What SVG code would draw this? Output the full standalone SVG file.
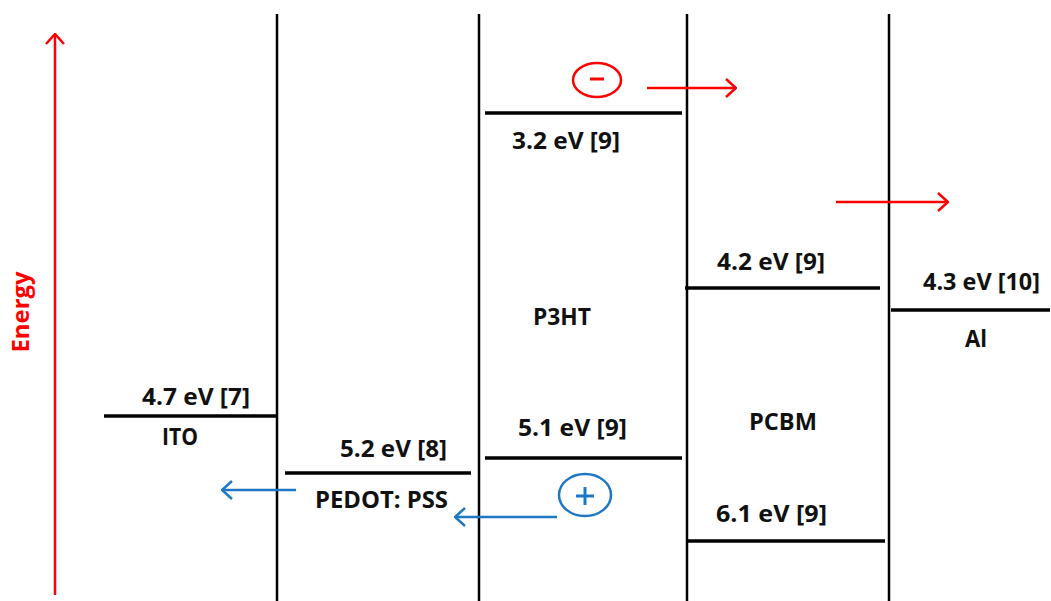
<svg xmlns="http://www.w3.org/2000/svg" width="1051" height="601" viewBox="0 0 1051 601">
<defs>
<style>
.v{stroke:#000;stroke-width:2.5;fill:none}
.h{stroke:#000;stroke-width:3.5;fill:none}
.t{font-family:"Open Sans","Liberation Sans",sans-serif;font-weight:bold;font-size:23px;fill:#111}
.r{stroke:#ff0000;stroke-width:2.5;fill:none}
.b{stroke:#1f77c4;stroke-width:2.5;fill:none}
</style>
<marker id="ar" viewBox="0 0 12 20" refX="11" refY="10" markerWidth="12" markerHeight="20" markerUnits="userSpaceOnUse" orient="auto"><path d="M1,1 L11,10 L1,19" fill="none" stroke="#ff0000" stroke-width="2.5"/></marker>
<marker id="ab" viewBox="0 0 12 20" refX="11" refY="10" markerWidth="12" markerHeight="20" markerUnits="userSpaceOnUse" orient="auto"><path d="M1,1 L11,10 L1,19" fill="none" stroke="#1f77c4" stroke-width="2.5"/></marker>
</defs>
<rect width="1051" height="601" fill="#fff"/>
<g id="layers">
<line class="v" x1="277" y1="14" x2="277" y2="601"/>
<line class="v" x1="479" y1="14" x2="479" y2="601"/>
<line class="v" x1="687" y1="14" x2="687" y2="601"/>
<line class="v" x1="889" y1="14" x2="889" y2="601"/>
</g>
<g id="ITO">
<line class="h" x1="104" y1="416" x2="277" y2="416"/>
<text class="t" x="142" y="405" textLength="108" lengthAdjust="spacingAndGlyphs">4.7 eV [7]</text>
<text class="t" x="162" y="445" textLength="36" lengthAdjust="spacingAndGlyphs">ITO</text>
</g>
<g id="PEDOT">
<line class="h" x1="285" y1="473" x2="471" y2="473"/>
<text class="t" x="340" y="457" textLength="107" lengthAdjust="spacingAndGlyphs">5.2 eV [8]</text>
<text class="t" x="315" y="508" textLength="133" lengthAdjust="spacingAndGlyphs">PEDOT: PSS</text>
</g>
<g id="P3HT">
<line class="h" x1="485" y1="113" x2="682" y2="113"/>
<line class="h" x1="485" y1="458" x2="682" y2="458"/>
<text class="t" x="512" y="149" textLength="108" lengthAdjust="spacingAndGlyphs">3.2 eV [9]</text>
<text class="t" x="533" y="325" textLength="58" lengthAdjust="spacingAndGlyphs">P3HT</text>
<text class="t" x="518" y="436" textLength="109" lengthAdjust="spacingAndGlyphs">5.1 eV [9]</text>
</g>
<g id="PCBM">
<line class="h" x1="685" y1="288" x2="880" y2="288"/>
<line class="h" x1="688" y1="541" x2="885" y2="541"/>
<text class="t" x="717" y="270" textLength="108" lengthAdjust="spacingAndGlyphs">4.2 eV [9]</text>
<text class="t" x="749" y="430" textLength="68" lengthAdjust="spacingAndGlyphs">PCBM</text>
<text class="t" x="716" y="522" textLength="111" lengthAdjust="spacingAndGlyphs">6.1 eV [9]</text>
</g>
<g id="Al">
<line class="h" x1="891" y1="310" x2="1050" y2="310"/>
<text class="t" x="923" y="290" textLength="117" lengthAdjust="spacingAndGlyphs">4.3 eV [10]</text>
<text class="t" x="965" y="347" textLength="22" lengthAdjust="spacingAndGlyphs">Al</text>
</g>
<g id="energy">
<line class="r" x1="55" y1="595" x2="55" y2="34" marker-end="url(#ar)"/>
<text x="0" y="0" transform="translate(29 312) rotate(-90)" text-anchor="middle" textLength="81" lengthAdjust="spacingAndGlyphs" font-family="'Open Sans','Liberation Sans',sans-serif" font-weight="bold" font-size="23" fill="#ff0000">Energy</text>
</g>
<g id="electron">
<ellipse cx="597" cy="80" rx="24" ry="17" fill="none" stroke="#ff0000" stroke-width="2.5"/>
<line x1="590" y1="79" x2="604" y2="79" stroke="#ff0000" stroke-width="3"/>
</g>
<g id="hole">
<ellipse cx="585" cy="495" rx="26" ry="21" fill="none" stroke="#1f77c4" stroke-width="2.5"/>
<line x1="576" y1="496" x2="594" y2="496" stroke="#1f77c4" stroke-width="3"/>
<line x1="585" y1="487" x2="585" y2="505" stroke="#1f77c4" stroke-width="3"/>
</g>
<g id="connectors">
<line class="r" x1="647" y1="88" x2="736" y2="88" marker-end="url(#ar)"/>
<line class="r" x1="836" y1="202" x2="948" y2="202" marker-end="url(#ar)"/>
<line class="b" x1="557" y1="517" x2="455" y2="517" marker-end="url(#ab)"/>
<line class="b" x1="296" y1="490" x2="222" y2="490" marker-end="url(#ab)"/>
</g>
</svg>
